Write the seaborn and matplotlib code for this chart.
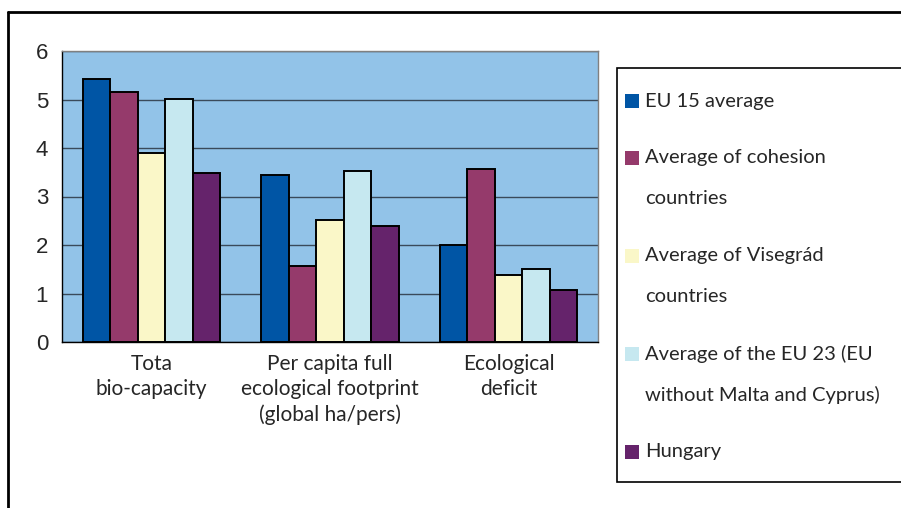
import pandas as pd
import seaborn as sns
import matplotlib.pyplot as plt
from matplotlib.patches import Rectangle
from matplotlib.lines import Line2D

categories = ["Tota\nbio-capacity",
              "Per capita full\necological footprint\n(global ha/pers)",
              "Ecological\ndeficit"]
series = ["EU 15 average",
          "Average of cohesion countries",
          "Average of Visegrád countries",
          "Average of the EU 23 (EU without Malta and Cyprus)",
          "Hungary"]
legend_lines = [["EU 15 average"],
                ["Average of cohesion", "countries"],
                ["Average of Visegrád", "countries"],
                ["Average of the EU 23 (EU", "without Malta and Cyprus)"],
                ["Hungary"]]
eu15 = [5.42, 3.44, 2.01]
cohesion = [5.15, 1.57, 3.56]
visegrad = [3.90, 2.51, 1.38]
eu23 = [5.02, 3.52, 1.51]
hungary = [3.48, 2.40, 1.08]
colors = ["#0055A5", "#953A6B", "#FAF7C8", "#C6E8F0", "#65236B"]

rows = []
for name, vals in zip(series, [eu15, cohesion, visegrad, eu23, hungary]):
    for cat, v in zip(categories, vals):
        rows.append({"category": cat, "series": name, "value": v})
df = pd.DataFrame(rows)

sns.set_style("white")
plt.rcParams['font.family'] = ['Lato', 'DejaVu Sans']

W, H = 901, 508
fig = plt.figure(figsize=(W / 100, H / 100), dpi=100)
ax = fig.add_axes([62 / W, 1 - 342 / H, (598 - 62) / W, (342 - 51) / H])
ax.set_facecolor("#92C3E8")

sns.barplot(data=df, x="category", y="value", hue="series", order=categories,
            hue_order=series, palette=colors, width=0.77, edgecolor="black",
            linewidth=1.4, saturation=1, ax=ax, legend=False)

ax.set_ylim(0, 6)
ax.set_xlim(-0.5, 2.5)
ax.set_yticks(range(7))
ax.yaxis.grid(True, color="#3a4a5a", linewidth=1.0)
ax.set_axisbelow(True)
ax.set_xlabel("")
ax.set_ylabel("")
ax.set_xticks([0, 1, 2])
ax.set_xticklabels(categories, fontsize=15, linespacing=1.3)
ax.set_xticks([-0.5, 0.5, 1.5, 2.5], minor=True)
ax.tick_params(axis="x", which="major", length=0, pad=9)
ax.tick_params(axis="x", which="minor", length=6, width=1, color="black", direction="out")
ax.tick_params(axis="y", length=5, width=1, color="black", direction="out", pad=5)
for lab in ax.get_yticklabels():
    lab.set_family("Liberation Sans")
    lab.set_fontsize(16)
for s in ["left", "bottom"]:
    ax.spines[s].set_color("black")
    ax.spines[s].set_linewidth(1.0)
for s in ["top", "right"]:
    ax.spines[s].set_color("#808080")
    ax.spines[s].set_linewidth(1.0)

# outer frame (left and top edges visible)
fig.add_artist(Line2D([8 / W, 8 / W], [0, 1 - 12 / H], color="black", linewidth=2))
fig.add_artist(Line2D([8 / W, 1], [1 - 12 / H, 1 - 12 / H], color="black", linewidth=2))

# legend box
fig.add_artist(Rectangle((617 / W, 1 - 482 / H), (910 - 617) / W, (482 - 68) / H,
                         transform=fig.transFigure, facecolor="white",
                         edgecolor="black", linewidth=1.2, clip_on=False))
line_y = [[101], [158, 199], [256, 297], [354, 395], [452]]
for color, lines, ys in zip(colors, legend_lines, line_y):
    fig.add_artist(Rectangle((625 / W, 1 - (ys[0] + 7) / H), 14 / W, 14 / H,
                             transform=fig.transFigure, facecolor=color,
                             edgecolor="none"))
    for txt, y in zip(lines, ys):
        fig.text(645 / W, 1 - y / H, txt, fontsize=14.5, va="center", ha="left")

fig.savefig("out.png", dpi=100)
